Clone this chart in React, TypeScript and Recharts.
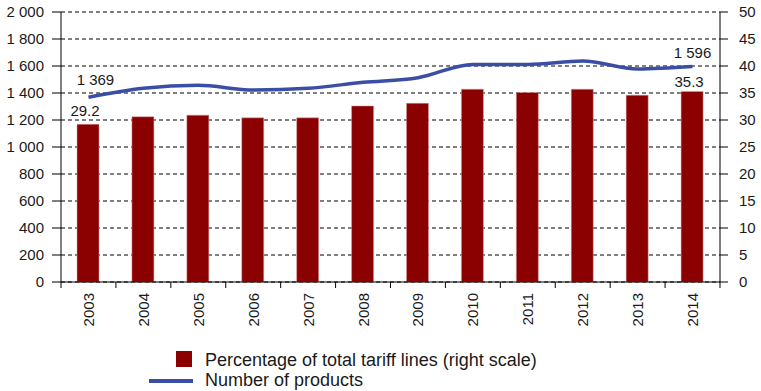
import React from 'react';
import { ComposedChart, Bar, Line, XAxis, YAxis, CartesianGrid, LabelList } from 'recharts';

const years = ['2003', '2004', '2005', '2006', '2007', '2008', '2009', '2010', '2011', '2012', '2013', '2014'];
const productCounts = [1369, 1435, 1457, 1422, 1435, 1479, 1513, 1612, 1612, 1637, 1578, 1596];
const tariffPct = [29.2, 30.6, 30.9, 30.4, 30.4, 32.6, 33.1, 35.7, 35.1, 35.7, 34.6, 35.3];
const leftTicks = [0, 200, 400, 600, 800, 1000, 1200, 1400, 1600, 1800, 2000];
const rightTicks = [0, 5, 10, 15, 20, 25, 30, 35, 40, 45, 50];
const barLegend = 'Percentage of total tariff lines (right scale)';
const lineLegend = 'Number of products';

const data = years.map((y, i) => ({ year: y, products: productCounts[i], pct: tariffPct[i] }));

const FONT = "'Liberation Sans', Arial, sans-serif";
const TEXT = '#1a1a1a';
const RED = '#8b0000';
const BLUE = '#3b4ea6';
const FS = 15;

const fmt = (n: number) =>
  n >= 1000 ? `${Math.floor(n / 1000)} ${String(n % 1000).padStart(3, '0')}` : String(n);

const XTick = (props: any) => {
  const { x, y, payload, index, visibleTicksCount } = props;
  const half = payload && typeof payload.offset === 'number' ? payload.offset : 27.45;
  const axisY = y - 8;
  return (
    <g>
      <line x1={x - half} x2={x - half} y1={axisY} y2={axisY + 6} stroke="#000" strokeWidth={1} />
      {index === (visibleTicksCount ?? years.length) - 1 && (
        <line x1={x + half} x2={x + half} y1={axisY} y2={axisY + 6} stroke="#000" strokeWidth={1} />
      )}
      <text
        x={x}
        y={y + 3}
        transform={`rotate(-90, ${x}, ${y + 3})`}
        textAnchor="end"
        dominantBaseline="central"
        fontSize={FS}
        fontFamily={FONT}
        fill={TEXT}
      >
        {payload.value}
      </text>
    </g>
  );
};

const lineLabel = (props: any) => {
  const { x, y, value, index } = props;
  if (index !== 0 && index !== years.length - 1) return null;
  const dx = index === 0 ? 7 : 0;
  const dy = index === 0 ? -18 : -14;
  return (
    <text x={x + dx} y={y + dy} textAnchor="middle" dominantBaseline="central" fontSize={FS} fontFamily={FONT} fill={TEXT}>
      {fmt(value)}
    </text>
  );
};

const barLabel = (props: any) => {
  const { x, y, width, value, index } = props;
  if (index !== 0 && index !== years.length - 1) return null;
  const dy = index === 0 ? -14 : -10;
  return (
    <text x={x + width / 2 - 3} y={y + dy} textAnchor="middle" dominantBaseline="central" fontSize={FS} fontFamily={FONT} fill={TEXT}>
      {String(value)}
    </text>
  );
};

export default function App() {
  return (
    <div style={{ position: 'absolute', left: 0, top: 0, width: 761, height: 391, background: '#fff', fontFamily: FONT }}>
      <ComposedChart width={761} height={391} data={data} margin={{ top: 12, right: 0, left: 0, bottom: 0 }}>
        <CartesianGrid vertical={false} stroke="#000" strokeDasharray="4 3" yAxisId="left" />
        <XAxis
          dataKey="year"
          height={109}
          tickLine={false}
          axisLine={{ stroke: '#000' }}
          tick={<XTick />}
          tickMargin={0}
          tickSize={8}
          interval={0}
        />
        <YAxis
          yAxisId="left"
          width={61}
          domain={[0, 2000]}
          ticks={leftTicks}
          tickFormatter={fmt}
          tickSize={9}
          tickMargin={8}
          axisLine={{ stroke: '#000' }}
          tickLine={{ stroke: '#000' }}
          tick={{ fontSize: FS, fontFamily: FONT, fill: TEXT }}
          interval={0}
        />
        <YAxis
          yAxisId="right"
          orientation="right"
          width={41}
          domain={[0, 50]}
          ticks={rightTicks}
          tickSize={8}
          tickMargin={11}
          axisLine={{ stroke: '#000' }}
          tickLine={{ stroke: '#000' }}
          tick={{ fontSize: FS, fontFamily: FONT, fill: TEXT, textAnchor: 'start' }}
          interval={0}
        />
        <Bar yAxisId="right" dataKey="pct" fill={RED} stroke="#d9a0a0" strokeWidth={0.5} barSize={22} isAnimationActive={false}>
          <LabelList dataKey="pct" content={barLabel} />
        </Bar>
        <Line
          yAxisId="left"
          dataKey="products"
          type="monotone"
          stroke={BLUE}
          strokeWidth={3.5}
          dot={false}
          activeDot={false}
          isAnimationActive={false}
        >
          <LabelList dataKey="products" content={lineLabel} />
        </Line>
      </ComposedChart>
      <div style={{ position: 'absolute', left: 176, top: 351, width: 16, height: 16, background: RED }} />
      <div style={{ position: 'absolute', left: 205, top: 350, fontSize: 18, lineHeight: '20px', color: TEXT, whiteSpace: 'nowrap' }}>
        {barLegend}
      </div>
      <div style={{ position: 'absolute', left: 149, top: 379, width: 44, height: 4, background: BLUE }} />
      <div style={{ position: 'absolute', left: 205, top: 370, fontSize: 18, lineHeight: '20px', color: TEXT, whiteSpace: 'nowrap' }}>
        {lineLegend}
      </div>
    </div>
  );
}
